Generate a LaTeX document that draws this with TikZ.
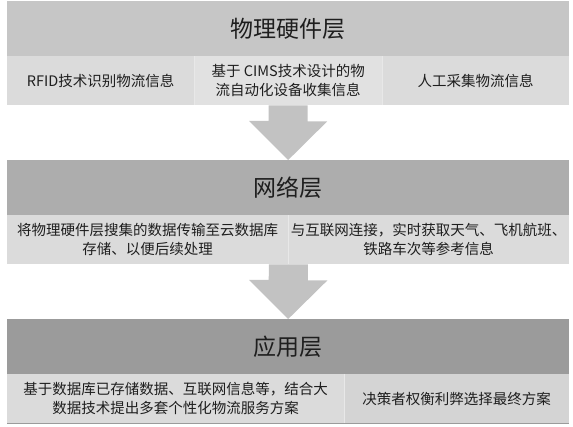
\documentclass[tikz,border=0pt]{standalone}
\usepackage{fontspec}
\setmainfont{Noto Sans CJK SC}
\definecolor{hA}{HTML}{C6C6C6}
\definecolor{hB}{HTML}{ADADAD}
\definecolor{hC}{HTML}{9B9B9B}
\definecolor{cellA}{HTML}{DBDBDB}
\definecolor{cellB}{HTML}{E1E1E1}
\definecolor{arrowc}{HTML}{C2C2C2}
\definecolor{txt}{HTML}{1E1E1E}
\definecolor{divc}{HTML}{E8E8E8}
\begin{document}
\begin{tikzpicture}[x=1pt,y=-1pt,
  hdr/.style={anchor=north west,inner sep=0pt,minimum width=562pt,minimum height=55pt,font=\fontsize{23}{27}\selectfont,text=txt},
  cell/.style={anchor=north west,inner sep=0pt,minimum height=49pt,fill=cellA,align=center,font=\fontsize{14.5}{19}\selectfont,text=txt},
  bigarrow/.style={fill=arrowc},
  divider/.style={draw=divc,line width=0.8pt}]
\useasboundingbox (0,0) rectangle (573,427);
% layer 1
\node[hdr,fill=hA] (h1) at (7,1) {物理硬件层};
\node[cell,minimum width=187pt] (c11) at (7,56) {RFID技术识别物流信息};
\node[cell,minimum width=188pt,fill=cellB] (c12) at (194,56) {基于 CIMS技术设计的物\\流自动化设备收集信息};
\node[cell,minimum width=187pt] (c13) at (382,56) {人工采集物流信息};
% layer 2
\node[hdr,fill=hB] (h2) at (7,160) {网络层};
\node[cell,minimum width=281pt] (c21) at (7,215) {将物理硬件层搜集的数据传输至云数据库\\存储、以便后续处理};
\node[cell,minimum width=281pt] (c22) at (288,215) {与互联网连接，实时获取天气、飞机航班、\\铁路车次等参考信息};
% layer 3
\node[hdr,fill=hC] (h3) at (7,319) {应用层};
\node[cell,minimum width=337pt] (c31) at (7,374) {基于数据库已存储数据、互联网信息等，结合大\\数据技术提出多套个性化物流服务方案};
\node[cell,minimum width=225pt,fill=cellA!97!black] (c32) at (344,374) {决策者权衡利弊选择最终方案};
% dividers
\draw[divider] (c11.north east) -- (c11.south east);
\draw[divider] (c12.north east) -- (c12.south east);
\draw[divider] (c21.north east) -- (c21.south east);
\draw[divider] (c31.north east) -- (c31.south east);
\draw[draw=hC,line width=1pt] (c31.south west) -- (c32.south east);
% arrows
\coordinate (a1) at (c12.south);
\coordinate (a2) at (c21.south east);
\fill[bigarrow] (a1) ++(-19.5,0) -- ++(39,0) -- ++(0,16) -- ++(19.5,0) -- (h2.north) -- ++(-39,-39) -- ++(19.5,0) -- cycle;
\fill[bigarrow] (a2) ++(-19.5,0) -- ++(39,0) -- ++(0,16) -- ++(19.5,0) -- (h3.north) -- ++(-39,-39) -- ++(19.5,0) -- cycle;
\end{tikzpicture}
\end{document}
